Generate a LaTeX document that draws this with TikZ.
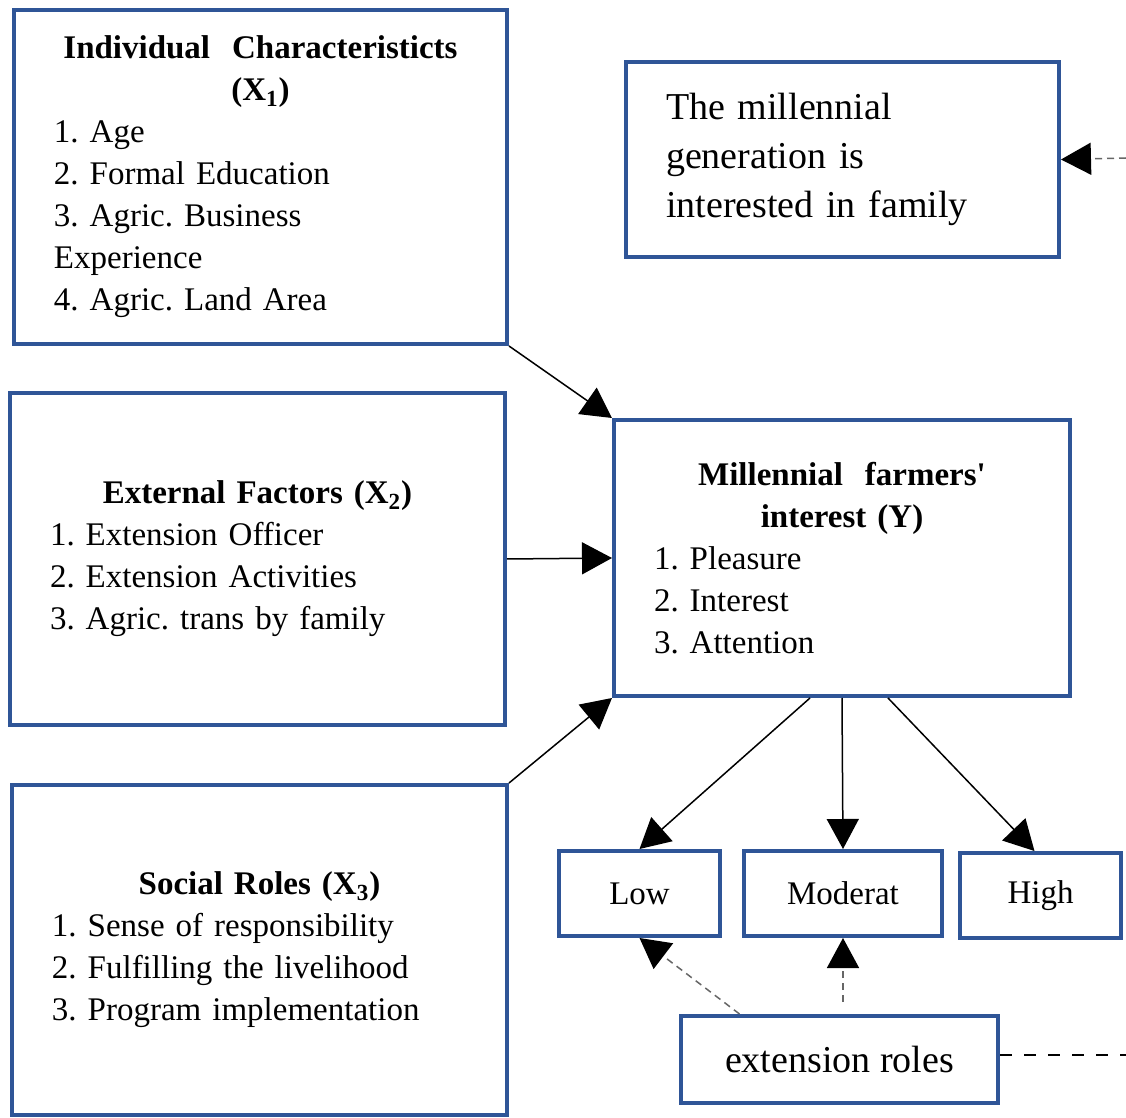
\documentclass[tikz,border=0pt]{standalone}
\usepackage{fontspec}
\setmainfont{Liberation Serif}
\usetikzlibrary{arrows.meta,positioning}
\definecolor{boxblue}{RGB}{47,85,151}
\frenchspacing

\begin{document}
\begin{tikzpicture}[x=0.5pt,y=-0.5pt,box/.style={draw=boxblue,line width=2pt,inner xsep=20pt,
inner ysep=0pt,align=left,font=\fontsize{16.5}{21}\selectfont},lvl/.style={draw=boxblue,line width=2pt,
inner sep=0pt,minimum height=42.5pt,font=\fontsize{16.5}{21}\selectfont},
arr/.style={-{Triangle[length=15pt,width=16pt]},line width=0.75pt},
darr/.style={-{Triangle[length=15pt,width=16pt,color=black]},dash pattern=on 3.5pt off 2.5pt,
line width=0.75pt,draw=black!60}]
\useasboundingbox (0,0) rectangle (1126,1118);
\node[box,text width=206.5pt,minimum width=246.5pt,minimum height=167pt] (ind) at (260.5,177)
{{\centering\bfseries Individual\ \ Characteristicts\\(X\textsubscript{1})\par}\raggedright
1. Age\\2. Formal Education\\3. Agric. Business\\Experience\\4. Agric. Land Area};
\node[box,text width=176.5pt,minimum width=216.5pt,minimum height=97.5pt,
font=\fontsize{19}{24.5}\selectfont] (gen) at (842.5,159.5)
{The millennial\\generation is\\interested in family\\[-8pt]};
\node[box,text width=207.5pt,minimum width=247.5pt,minimum height=166pt] (ext) at (257.5,559)
{{\centering\bfseries External Factors (X\textsubscript{2})\par}\raggedright
1. Extension Officer\\2. Extension Activities\\3. Agric. trans by family};
\node[box,text width=188pt,minimum width=228pt,minimum height=138pt] (mil) at (842,558)
{{\centering\bfseries Millennial\ \ farmers\textquotesingle\\interest (Y)\par}\raggedright
1. Pleasure\\2. Interest\\3. Attention};
\node[box,text width=207.5pt,minimum width=247.5pt,minimum height=165pt] (soc) at (259.5,950)
{{\centering\bfseries Social Roles (X\textsubscript{3})\par}\raggedright
1. Sense of responsibility\\2. Fulfilling the livelihood\\3. Program implementation};
\node[lvl,minimum width=80.5pt] (low) at (639.5,893.5) {Low};
\node[lvl,minimum width=99pt] (mod) at (843,893.5) {Moderat};
\node[lvl,minimum width=80.5pt] (high) at (1040.5,895.5) {High};
\node[lvl,minimum width=158.5pt,minimum height=43.5pt,font=\fontsize{19}{24.5}\selectfont] (rol)
at (839.5,1059.5) {extension roles};
\coordinate (gin) at (1126,158);
\coordinate (rout) at (1126,1055);
\draw[arr] (ind.south east)--(mil.north west);
\draw[arr] (ext.east)--(mil.west);
\draw[arr] (soc.north east)--(mil.south west);
\draw[arr] ([xshift=-16pt]mil.south)--(low.north);
\draw[arr] (mil.south)--(mod.north);
\draw[arr] ([xshift=23pt]mil.south)--([xshift=-3pt]high.north);
\draw[darr] (gin)--(gen.east);
\draw[darr] ([xshift=-50pt]rol.north)--(low.south);
\draw[darr,shorten <=6pt] (rol.north -| mod.south)--(mod.south);
\draw[dash pattern=on 6pt off 6pt,line width=1pt] (rout -| rol.east)--(rout);
\end{tikzpicture}
\end{document}
